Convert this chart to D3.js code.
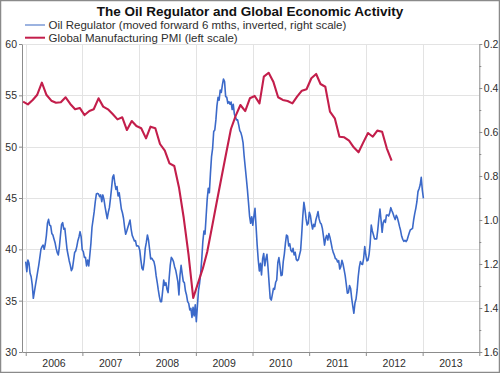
<!DOCTYPE html>
<html><head><meta charset="utf-8">
<script src="https://cdn.jsdelivr.net/npm/d3@7"></script>
<style>
body{margin:0;background:#fff}
svg{display:block;font-family:"Liberation Sans",Arial,sans-serif}
</style>
</head><body>
<svg id="chart" width="500" height="373"></svg>
<script>
// ---- Data ----
const title = "The Oil Regulator and Global Economic Activity";
const seriesNames = ["Oil Regulator (moved forward 6 mths, inverted, right scale)", "Global Manufacturing PMI (left scale)"];
const yearLabels = [2006, 2007, 2008, 2009, 2010, 2011, 2012, 2013];
const leftTicks = [30, 35, 40, 45, 50, 55, 60];
const rightTicks = [0.2, 0.4, 0.6, 0.8, 1.0, 1.2, 1.4, 1.6];
const rightMinorTicks = [0.3, 0.5, 0.7, 0.9, 1.1, 1.3, 1.5];

// Global Manufacturing PMI, monthly from Dec 2005 to Jun 2012 (left scale)
const pmiStart = [2005, 11, 15];
const pmiValues = [
  54.38, 54.12, 54.55, 55.03, 56.23, 55.03, 54.48, 54.28, 54.32, 54.81,
  54.16, 53.64, 53.77, 53.08, 53.47, 53.64, 54.71, 53.90, 53.64, 53.18,
  52.66, 52.86, 51.62, 52.50, 52.01, 51.79, 50.81, 51.95, 51.79, 50.26,
  49.61, 48.38, 48.12, 45.97, 43.05, 39.45, 35.26, 36.72, 38.14, 39.74,
  42.16, 44.56, 47.00, 49.34, 51.72, 53.02, 54.06, 53.47, 54.71, 54.94,
  54.22, 56.82, 57.20, 56.33, 54.81, 54.55, 54.45, 54.22, 54.87, 55.45,
  55.59, 56.66, 57.08, 56.10, 55.84, 53.41, 52.76, 50.97, 50.91, 50.58,
  49.94, 49.45, 50.39, 51.33, 50.97, 51.56, 51.46, 49.84, 48.63
];

// Oil Regulator, weekly from Jan 2006 (right scale, inverted)
const oilStart = [2006, 0, 1];
const oilStepDays = 7;
const oilValues = [
  1.189, 1.235, 1.182, 1.197, 1.242, 1.258, 1.295, 1.356, 1.326, 1.295,
  1.265, 1.235, 1.205, 1.170, 1.133, 1.121, 1.114, 1.133, 1.109, 1.071,
  1.015, 0.997, 1.023, 1.027, 1.061, 1.068, 1.086, 1.103, 1.129, 1.148,
  1.159, 1.121, 1.068, 1.020, 1.012, 1.042, 1.038, 1.086, 1.133, 1.159,
  1.185, 1.205, 1.230, 1.220, 1.185, 1.148, 1.141, 1.121, 1.094, 1.077,
  1.053, 1.076, 1.136, 1.144, 1.170, 1.170, 1.209, 1.182, 1.209, 1.159,
  1.106, 1.033, 0.998, 0.962, 0.917, 0.882, 0.879, 0.882, 0.894, 0.886,
  0.917, 0.886, 0.906, 0.939, 0.967, 0.994, 0.965, 0.944, 0.902, 0.855,
  0.805, 0.795, 0.833, 0.861, 0.848, 0.891, 0.876, 0.912, 0.950, 0.967,
  0.992, 1.033, 1.065, 1.050, 1.033, 1.017, 1.000, 1.041, 1.070, 1.082,
  1.095, 1.094, 1.118, 1.117, 1.121, 1.139, 1.182, 1.220, 1.227, 1.189,
  1.129, 1.102, 1.068, 1.091, 1.133, 1.177, 1.174, 1.182, 1.189, 1.212,
  1.253, 1.283, 1.318, 1.348, 1.371, 1.371, 1.323, 1.273, 1.297, 1.285,
  1.315, 1.330, 1.265, 1.205, 1.170, 1.177, 1.189, 1.212, 1.227, 1.253,
  1.280, 1.341, 1.250, 1.206, 1.245, 1.279, 1.285, 1.323, 1.341, 1.371,
  1.379, 1.409, 1.402, 1.443, 1.397, 1.436, 1.386, 1.462, 1.391, 1.321,
  1.288, 1.242, 1.179, 1.098, 1.050, 1.064, 0.985, 0.906, 0.856, 0.876,
  0.788, 0.712, 0.674, 0.598, 0.591, 0.545, 0.480, 0.442, 0.455, 0.409,
  0.420, 0.386, 0.359, 0.371, 0.439, 0.442, 0.470, 0.462, 0.474, 0.464,
  0.498, 0.474, 0.518, 0.532, 0.545, 0.545, 0.568, 0.594, 0.603, 0.621,
  0.648, 0.709, 0.759, 0.809, 0.861, 0.920, 0.982, 1.015, 0.985, 1.024,
  0.982, 0.947, 1.030, 1.114, 1.182, 1.232, 1.197, 1.250, 1.177, 1.152,
  1.208, 1.177, 1.156, 1.217, 1.288, 1.356, 1.364, 1.338, 1.311, 1.315,
  1.283, 1.273, 1.194, 1.171, 1.208, 1.253, 1.250, 1.189, 1.155, 1.106,
  1.068, 1.073, 1.118, 1.108, 1.138, 1.145, 1.129, 1.159, 1.147, 1.179,
  1.185, 1.179, 1.158, 1.138, 1.064, 0.982, 0.920, 0.952, 0.995, 1.023,
  1.015, 0.965, 0.980, 1.015, 1.041, 1.020, 1.030, 1.000, 0.982, 0.962,
  0.995, 1.012, 1.018, 1.038, 1.073, 1.114, 1.083, 1.070, 1.091, 1.062,
  1.079, 1.103, 1.129, 1.147, 1.159, 1.176, 1.177, 1.191, 1.185, 1.223,
  1.212, 1.183, 1.200, 1.226, 1.253, 1.292, 1.333, 1.330, 1.298, 1.311,
  1.356, 1.392, 1.424, 1.377, 1.359, 1.318, 1.258, 1.214, 1.189, 1.200,
  1.202, 1.174, 1.121, 1.159, 1.186, 1.182, 1.156, 1.106, 1.023, 1.050,
  1.067, 1.086, 1.086, 1.086, 1.045, 0.992, 0.950, 1.000, 1.056, 1.012,
  1.000, 1.011, 0.977, 0.977, 0.982, 0.967, 0.944, 0.958, 0.970, 0.985,
  0.998, 0.979, 0.989, 1.008, 1.029, 1.048, 1.074, 1.088, 1.097, 1.092,
  1.098, 1.091, 1.074, 1.058, 1.044, 1.042, 1.038, 1.000, 0.971, 0.947,
  0.917, 0.871, 0.858, 0.841, 0.806, 0.864, 0.902
];

// ---- Build series ----
const pmiData = pmiValues.map((v, i) => ({date: d3.timeMonth.offset(new Date(...pmiStart), i), value: v}));
const oilData = oilValues.map((v, i) => ({date: d3.timeDay.offset(new Date(...oilStart), i * oilStepDays), value: v}));

// ---- Layout ----
const W = 500, H = 373;
const plot = {left: 22, right: 479.3, top: 44, bottom: 352};
const svg = d3.select("#chart");

svg.append("rect").attr("x", 0.5).attr("y", 0.5).attr("width", W - 1).attr("height", H - 1)
  .attr("fill", "#fff").attr("stroke", "#8a8a8a").attr("stroke-width", 1.5);

const x = d3.scaleTime()
  .domain([new Date(2005, 11, 8), new Date(2014, 0, 1)])
  .range([plot.left, plot.right]);
const yL = d3.scaleLinear().domain([30, 60]).range([plot.bottom, plot.top]);
const yR = d3.scaleLinear().domain([0.2, 1.6]).range([plot.top, plot.bottom]);

const yearTicks = yearLabels.map(y => new Date(y, 0, 1)).concat([new Date(2014, 0, 1)]);

// Gridlines
const grid = svg.append("g").attr("stroke", "#e3e3e3").attr("stroke-width", 1);
grid.append("g").selectAll("line").data(leftTicks.slice(1)).join("line")
  .attr("x1", plot.left).attr("x2", plot.right)
  .attr("y1", d => Math.round(yL(d)) + 0.5).attr("y2", d => Math.round(yL(d)) + 0.5);
grid.append("g").selectAll("line").data(yearTicks.slice(0, -1)).join("line")
  .attr("x1", d => Math.round(x(d)) + 0.5).attr("x2", d => Math.round(x(d)) + 0.5)
  .attr("y1", plot.top).attr("y2", plot.bottom);

// Axes
const axisColor = "#8c8c8c";
const textColor = "#2e2e2e";
const fontSize = "10.5px";

const gx = svg.append("g").attr("transform", `translate(0,${plot.bottom})`)
  .call(d3.axisBottom(x).tickValues(yearTicks).tickFormat(() => "").tickSizeInner(4).tickSizeOuter(0));
gx.selectAll("line,path").attr("stroke", axisColor);
gx.selectAll("text").remove();
svg.append("g").selectAll("text")
  .data(yearLabels).join("text")
  .attr("x", d => x(new Date(d, 6, 2)))
  .attr("y", plot.bottom + 14.5)
  .attr("text-anchor", "middle")
  .attr("fill", textColor)
  .style("font-size", fontSize)
  .text(d => d);

const gl = svg.append("g").attr("transform", `translate(${plot.left},0)`)
  .call(d3.axisLeft(yL).tickValues(leftTicks).tickSizeInner(3).tickSizeOuter(0).tickPadding(2));
gl.selectAll("line,path").attr("stroke", axisColor);
gl.selectAll("text").attr("fill", textColor).style("font-size", fontSize);

const gr = svg.append("g").attr("transform", `translate(${plot.right},0)`)
  .call(d3.axisRight(yR).tickValues(rightTicks).tickFormat(d3.format(".1f")).tickSizeInner(3).tickSizeOuter(0).tickPadding(1.5));
gr.selectAll("line,path").attr("stroke", axisColor);
gr.selectAll("text").attr("fill", textColor).style("font-size", fontSize);
const grm = svg.append("g").attr("transform", `translate(${plot.right},0)`)
  .call(d3.axisRight(yR).tickValues(rightMinorTicks).tickFormat(() => "").tickSizeInner(2).tickSizeOuter(0));
grm.select("path").remove();
grm.selectAll("text").remove();
grm.selectAll("line").attr("stroke", axisColor);

svg.selectAll("g").attr("font-family", null);

// Lines
const oilColor = "#3b69c9";
const pmiColor = "#c31e4b";

svg.append("path").datum(oilData)
  .attr("fill", "none").attr("stroke", oilColor).attr("stroke-width", 1.6).attr("stroke-linejoin", "round")
  .attr("d", d3.line().x(d => x(d.date)).y(d => yR(d.value)));

svg.append("path").datum(pmiData)
  .attr("fill", "none").attr("stroke", pmiColor).attr("stroke-width", 2.1).attr("stroke-linejoin", "round")
  .attr("d", d3.line().x(d => x(d.date)).y(d => yL(d.value)));

// Title
svg.append("text").attr("x", 250).attr("y", 15.5).attr("text-anchor", "middle")
  .attr("font-weight", "bold").style("font-size", "13.5px").attr("fill", "#111").text(title);

// Legend
const legend = svg.append("g");
const legItems = [{name: seriesNames[0], color: "#7b9ad6", w: 1.5, y: 25}, {name: seriesNames[1], color: pmiColor, w: 2, y: 37.7}];
legItems.forEach(it => {
  legend.append("line").attr("x1", 25).attr("x2", 45).attr("y1", it.y).attr("y2", it.y)
    .attr("stroke", it.color).attr("stroke-width", it.w);
  legend.append("text").attr("x", 48.5).attr("y", it.y + 4).style("font-size", "11.5px")
    .attr("fill", textColor).text(it.name);
});
</script>
</body></html>
